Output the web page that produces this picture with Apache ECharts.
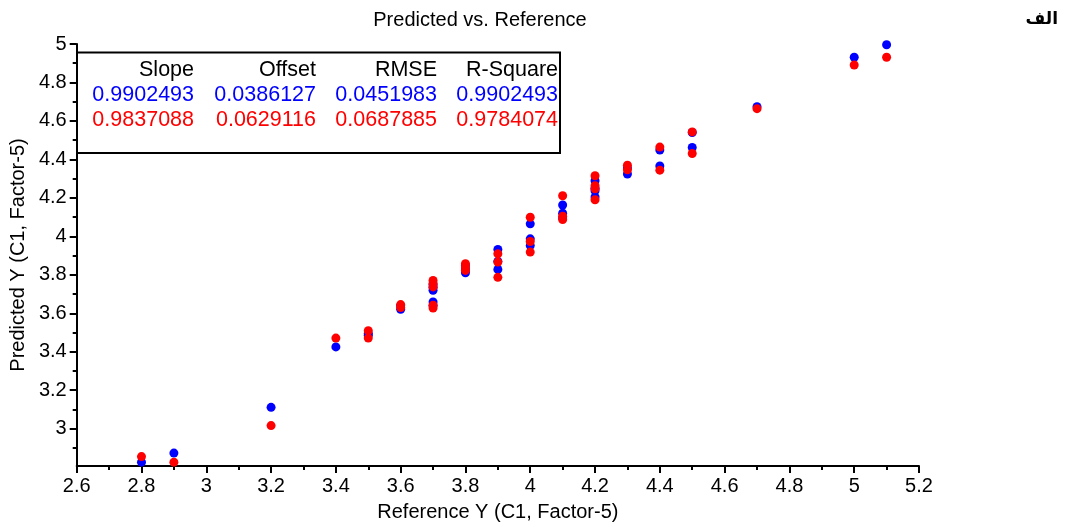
<!DOCTYPE html>
<html>
<head>
<meta charset="utf-8">
<script src="https://cdn.jsdelivr.net/npm/echarts@6/dist/echarts.min.js"></script>
<style>
html,body{margin:0;padding:0;background:#fff;}
#chart{width:1071px;height:527px;}
</style>
</head>
<body>
<div id="chart"></div>
<script>
// ---- data ----
const referenceY = [2.8, 2.9, 3.2, 3.4, 3.5, 3.5, 3.6, 3.6, 3.7, 3.7, 3.7, 3.7, 3.7,
  3.8, 3.8, 3.8, 3.9, 3.9, 3.9, 4.0, 4.0, 4.0, 4.1, 4.1, 4.1,
  4.2, 4.2, 4.2, 4.2, 4.3, 4.3, 4.4, 4.4, 4.5, 4.5, 4.7, 5.0, 5.1];
const predictedBlue = [2.826, 2.873, 3.111, 3.425, 3.486, 3.495, 3.621, 3.640, 3.720, 3.750, 3.735, 3.659, 3.640,
  3.811, 3.830, 3.850, 3.932, 3.870, 3.828, 4.065, 3.987, 3.952, 4.163, 4.120, 4.095,
  4.289, 4.237, 4.250, 4.205, 4.324, 4.355, 4.449, 4.366, 4.540, 4.462, 4.674, 4.931, 4.996];
const predictedRed = [2.855, 2.826, 3.016, 3.471, 3.509, 3.471, 3.645, 3.630, 3.771, 3.754, 3.737, 3.642, 3.627,
  3.858, 3.841, 3.823, 3.909, 3.866, 3.787, 4.099, 3.973, 3.918, 4.211, 4.105, 4.087,
  4.315, 4.263, 4.247, 4.190, 4.370, 4.346, 4.464, 4.344, 4.543, 4.431, 4.664, 4.891, 4.931];
const yTickLabels = [3, 3.2, 3.4, 3.6, 3.8, 4, 4.2, 4.4, 4.6, 4.8, 5];
const yMinorTicks = [2.9, 3.1, 3.3, 3.5, 3.7, 3.9, 4.1, 4.3, 4.5, 4.7, 4.9];
const statHeaders = ['Slope', 'Offset', 'RMSE', 'R-Square'];
const statsBlue = ['0.9902493', '0.0386127', '0.0451983', '0.9902493'];
const statsRed = ['0.9837088', '0.0629116', '0.0687885', '0.9784074'];
const titleText = 'Predicted vs. Reference';
const cornerLabel = 'الف';
const xName = 'Reference Y (C1, Factor-5)';
const yName = 'Predicted Y (C1, Factor-5)';

// ---- chart ----
const FONT = '"Liberation Sans", Arial, sans-serif';
const chart = echarts.init(document.getElementById('chart'), null, {renderer: 'canvas'});
const blueData = referenceY.map((x, i) => [x, predictedBlue[i]]);
const redData = referenceY.map((x, i) => [x, predictedRed[i]]);

const colRight = [194, 316, 437, 558];
const rowY = [70, 95.5, 120.5];
const rows = [statHeaders, statsBlue, statsRed];
const rowColors = ['#000', '#0000ff', '#ff0000'];
const graphics = [
  {type: 'text', x: 480, y: 20, style: {text: titleText, font: '20px ' + FONT, fill: '#000', textAlign: 'center', textVerticalAlign: 'middle'}, z: 10},
  {type: 'text', x: 1058, y: 20, style: {text: cornerLabel, font: 'bold 17px "DejaVu Sans", sans-serif', fill: '#000', textAlign: 'right', textVerticalAlign: 'middle'}, z: 10},
  {type: 'rect', shape: {x: 77, y: 52.5, width: 483, height: 100.5}, style: {fill: 'rgba(0,0,0,0)', stroke: '#000', lineWidth: 2}, z: 10}
];
rows.forEach((r, ri) => r.forEach((t, ci) => {
  graphics.push({type: 'text', x: colRight[ci], y: rowY[ri], style: {text: t, font: '21.5px ' + FONT, fill: rowColors[ri], textAlign: 'right', textVerticalAlign: 'middle'}, z: 10});
}));

const axisLineStyle = {color: '#000', width: 2};
chart.setOption({
  animation: false,
  backgroundColor: '#fff',
  grid: {left: 76, right: 152, top: 44, bottom: 59, containLabel: false},
  xAxis: {
    type: 'value', min: 2.6, max: 5.2, interval: 0.2,
    name: xName, nameLocation: 'middle', nameGap: 36,
    nameTextStyle: {fontSize: 20, fontFamily: FONT, color: '#000'},
    axisLine: {show: true, onZero: false, lineStyle: axisLineStyle},
    axisTick: {show: true, length: 7, lineStyle: axisLineStyle},
    minorTick: {show: true, splitNumber: 2, length: 4, lineStyle: axisLineStyle},
    axisLabel: {fontSize: 20, fontFamily: FONT, color: '#000', margin: 10},
    splitLine: {show: false}, minorSplitLine: {show: false}
  },
  yAxis: [{
    type: 'value', min: 2.806, max: 5,
    name: yName, nameLocation: 'middle', nameGap: 44, nameRotate: 90,
    nameTextStyle: {fontSize: 20, fontFamily: FONT, color: '#000'},
    axisLine: {show: true, onZero: false, lineStyle: axisLineStyle},
    axisTick: {show: true, length: 7, lineStyle: axisLineStyle, customValues: yTickLabels},
    axisLabel: {fontSize: 20, fontFamily: FONT, color: '#000', margin: 10, customValues: yTickLabels},
    splitLine: {show: false}
  }, {
    type: 'value', min: 2.806, max: 5, position: 'left',
    axisLine: {show: false},
    axisTick: {show: true, length: 4, lineStyle: axisLineStyle, customValues: yMinorTicks},
    axisLabel: {show: false, customValues: yMinorTicks},
    splitLine: {show: false}
  }],
  series: [{
    type: 'scatter', name: 'blue', data: blueData, symbolSize: 9,
    itemStyle: {color: '#0000ff', opacity: 1}, z: 2
  }, {
    type: 'scatter', name: 'red', data: redData, symbolSize: 9,
    itemStyle: {color: '#ff0000', opacity: 1}, z: 3
  }],
  graphic: graphics
});
</script>
</body>
</html>
